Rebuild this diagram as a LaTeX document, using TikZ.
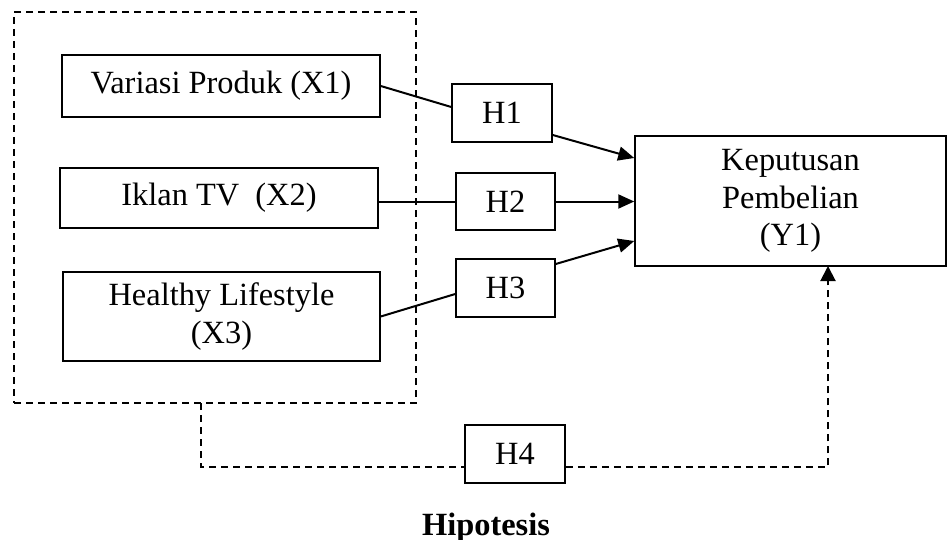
\documentclass[tikz,border=0pt]{standalone}
\usepackage{fontspec}
\setmainfont{Liberation Serif}
\usetikzlibrary{arrows.meta}
\begin{document}
\begin{tikzpicture}[x=0.5pt,y=-0.5pt,
  box/.style={draw,line width=0.75pt,inner sep=0pt,align=center,
    font=\fontsize{16.2}{18.7}\selectfont},
  conn/.style={line width=1pt},
  arr/.style={conn,-{Triangle[length=8pt,width=7pt]}},
  dsh/.style={line width=0.75pt,dash pattern=on 3.5pt off 2.5pt},
  darr/.style={dsh,line width=1pt,-{Triangle[length=7.5pt,width=7.5pt]}}]
\useasboundingbox (0,0) rectangle (948,540);
\node[dsh,draw,minimum width=201pt,minimum height=195.5pt] (grp) at (215,207.5) {};
\node[box,minimum width=159pt,minimum height=31pt] (X1) at (221,86) {Variasi Produk (X1)};
\node[box,minimum width=159pt,minimum height=30pt] (X2) at (219,198) {Iklan TV\ \ (X2)};
\node[box,minimum width=158.5pt,minimum height=44.5pt] (X3) at (221.5,316.5) {Healthy Lifestyle\\(X3)};
\node[box,minimum width=50pt,minimum height=29pt] (H1) at (502,113) {H1};
\node[box,minimum width=49.5pt,minimum height=28.5pt] (H2) at (505.5,201.5) {H2};
\node[box,minimum width=49.5pt,minimum height=29pt] (H3) at (505.5,288) {H3};
\node[box,minimum width=155.5pt,minimum height=65pt] (Y1) at (790.5,201) {Keputusan\\Pembelian\\(Y1)};
\node[box,minimum width=50pt,minimum height=29pt] (H4) at (515,454) {H4};
\node[anchor=base,inner sep=0pt,font=\fontsize{16.2}{18}\selectfont\bfseries] (cap) at (486,535) {Hipotesis};
% solid connectors
\draw[conn] (X1.east) -- ([yshift=3pt]H1.west);
\draw[arr] ([yshift=-11pt]H1.east) -- ([yshift=21.5pt]Y1.west);
\draw[conn] (X2.east |- H2.west) -- (H2.west);
\draw[arr] (H2.east) -- (H2.east -| Y1.west);
\draw[conn] (X3.east) -- ([yshift=-3pt]H3.west);
\draw[arr] ([yshift=12pt]H3.east) -- ([yshift=-20pt]Y1.west);
% dashed H4 path
\coordinate (gb) at (201,403);
\coordinate (ye) at (828,266);
\draw[dsh] (gb) |- ([yshift=-6.5pt]H4.west);
\draw[darr] ([yshift=-6.5pt]H4.east) -| (ye);
\end{tikzpicture}
\end{document}
